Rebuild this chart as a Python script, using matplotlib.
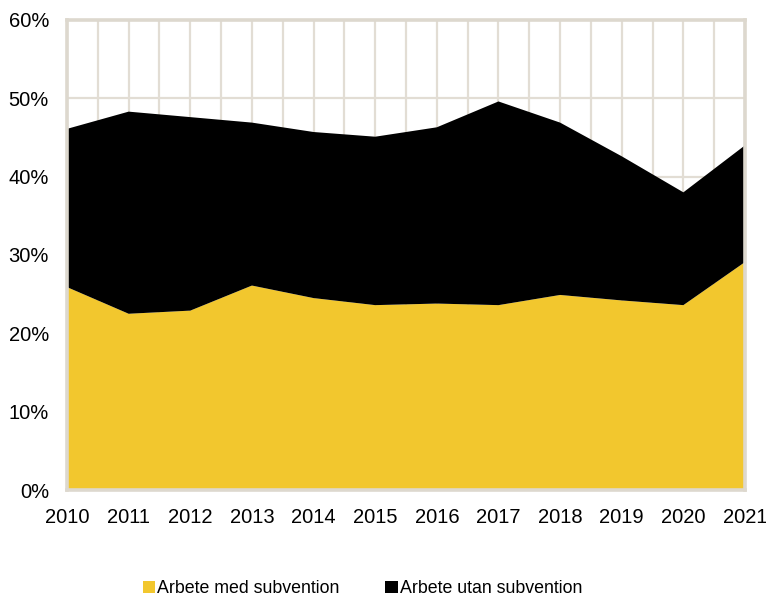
import numpy as np
import matplotlib
matplotlib.use('Agg')
import matplotlib.pyplot as plt
from matplotlib.patches import Patch

plt.rcParams['font.family'] = ['Liberation Sans', 'DejaVu Sans']

years = [2010, 2011, 2012, 2013, 2014, 2015, 2016, 2017, 2018, 2019, 2020, 2021]
med_subvention = [25.9, 22.5, 22.9, 26.1, 24.5, 23.6, 23.8, 23.6, 24.9, 24.2, 23.6, 29.1]
utan_subvention = [20.2, 25.8, 24.7, 20.8, 21.2, 21.5, 22.5, 26.0, 22.0, 18.4, 14.4, 14.9]
labels = ['Arbete med subvention', 'Arbete utan subvention']
colors = ['#f2c72e', '#000000']
grid_col = '#e2ddd4'

fig = plt.figure(figsize=(7.66, 6.0), dpi=100)
ax = fig.add_axes([0.0875, 0.1833, 0.8851, 0.7834])

# half-year vertical grid, 10% horizontal grid
for x in np.arange(2010, 2021.01, 0.5):
    ax.axvline(x, color=grid_col, lw=1.6, zorder=0)
for y in range(10, 60, 10):
    ax.axhline(y, color=grid_col, lw=1.6, zorder=0)

ax.stackplot(years, med_subvention, utan_subvention, colors=colors, zorder=2)

ax.set_xlim(2010, 2021)
ax.set_ylim(0, 60)
ax.set_xticks(years)
ax.set_xticklabels([str(y) for y in years])
ax.set_yticks(range(0, 61, 10))
ax.set_yticklabels([f'{v}%' for v in range(0, 61, 10)])
ax.tick_params(length=0, labelsize=14.5, colors='#000000')
ax.tick_params(axis='x', pad=13)
ax.tick_params(axis='y', pad=13)

for s in ax.spines.values():
    s.set_color('#ddd8ce')
    s.set_linewidth(2.6)
    s.set_zorder(3)

handles = [Patch(facecolor=c, edgecolor='none') for c in colors]
fig.legend(handles, labels, loc='lower center', bbox_to_anchor=(0.473, -0.022),
           ncol=2, frameon=False, fontsize=12.8, handlelength=0.7,
           handleheight=0.7, handletextpad=0.1, columnspacing=2.6)

fig.savefig('out.png', dpi=100)
